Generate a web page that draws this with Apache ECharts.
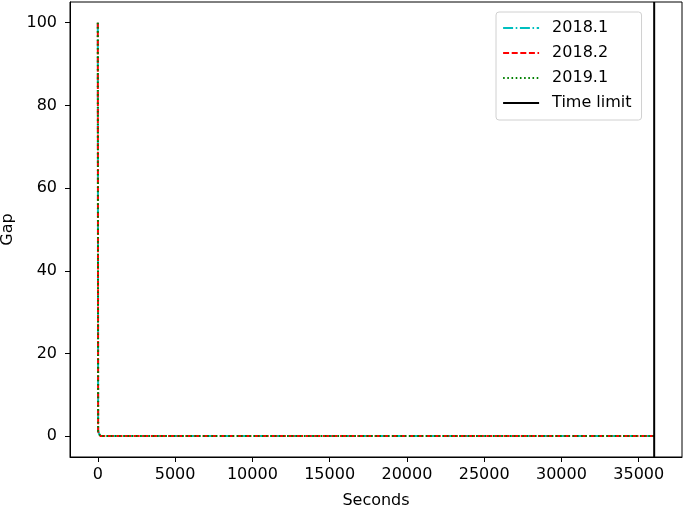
<!DOCTYPE html>
<html>
<head>
<meta charset="utf-8">
<script src="https://cdn.jsdelivr.net/npm/echarts@6/dist/echarts.min.js"></script>
<style>
  html, body { margin: 0; padding: 0; background: #fff; }
  #chart { width: 685px; height: 508px; }
</style>
</head>
<body>
<div id="chart"></div>
<script>
// seconds / gap pairs
const seconds_2018_1 = [0, 20, 150, 36000];
const gap_2018_1 = [100, 1.2, 0.1, 0.05];
const seconds_2018_2 = [0, 20, 150, 36000];
const gap_2018_2 = [100, 1.2, 0.1, 0.05];
const seconds_2019_1 = [0, 20, 150, 36000];
const gap_2019_1 = [100, 1.2, 0.1, 0.05];
const timeLimit = 36000;

const xTicks = [0, 5000, 10000, 15000, 20000, 25000, 30000, 35000];
const yTicks = [0, 20, 40, 60, 80, 100];

const FONT = 'DejaVu Sans';
const FS = 16;
const LW = 2;

const zip = (xs, ys) => xs.map((x, i) => [x, ys[i]]);

const chart = echarts.init(document.getElementById('chart'));

const lineSeries = (name, color, type, xs, ys) => ({
  name: name,
  type: 'line',
  symbol: 'none',
  data: zip(xs, ys),
  lineStyle: {color: color, width: LW, type: type},
  itemStyle: {color: color},
  animation: false
});

chart.setOption({
  animation: false,
  grid: {
    left: 70, right: 3, top: 2, bottom: 51,
    outerBoundsMode: 'none',
    containLabel: false,
    show: true, borderColor: '#000', borderWidth: 1
  },
  xAxis: {
    type: 'value',
    min: -1800,
    max: 37800,
    name: 'Seconds',
    nameLocation: 'middle',
    nameGap: 36,
    nameTextStyle: {fontFamily: FONT, fontSize: FS, color: '#000'},
    splitLine: {show: false},
    axisLine: {show: true, onZero: false, lineStyle: {color: '#000', width: 1}},
    axisTick: {show: true, length: 5, customValues: xTicks, lineStyle: {color: '#000'}},
    axisLabel: {
      customValues: xTicks, fontFamily: FONT, fontSize: FS, color: '#000', margin: 10,
      formatter: (v) => String(v)
    }
  },
  yAxis: {
    type: 'value',
    min: -5,
    max: 105,
    name: 'Gap',
    nameLocation: 'middle',
    nameGap: 53,
    nameTextStyle: {fontFamily: FONT, fontSize: FS, color: '#000'},
    splitLine: {show: false},
    axisLine: {show: true, onZero: false, lineStyle: {color: '#000', width: 1}},
    axisTick: {show: true, length: 5, customValues: yTicks, lineStyle: {color: '#000'}},
    axisLabel: {
      customValues: yTicks, fontFamily: FONT, fontSize: FS, color: '#000', margin: 13,
      formatter: (v) => String(v)
    }
  },
  legend: {
    orient: 'vertical',
    left: 496,
    top: 12,
    padding: [8, 10, 9, 6],
    itemWidth: 36,
    itemHeight: 14,
    itemGap: 9,
    backgroundColor: '#fff',
    borderColor: '#d0d0d0',
    borderWidth: 1,
    borderRadius: 3,
    itemStyle: {opacity: 0},
    lineStyle: {width: 2.2},
    textStyle: {fontFamily: FONT, fontSize: FS, color: '#000', padding: [0, 0, 0, 8]},
    data: ['2018.1', '2018.2', '2019.1', 'Time limit']
  },
  series: [
    lineSeries('2018.1', '#00bfbf', [10, 2.6, 1.6, 2.6], seconds_2018_1, gap_2018_1),
    lineSeries('2018.2', '#ff0000', [6, 2.6], seconds_2018_2, gap_2018_2),
    lineSeries('2019.1', '#008000', [1.6, 2.6], seconds_2019_1, gap_2019_1),
    lineSeries('Time limit', '#000000', 'solid', [timeLimit, timeLimit], [-5, 105])
  ]
});
</script>
</body>
</html>
